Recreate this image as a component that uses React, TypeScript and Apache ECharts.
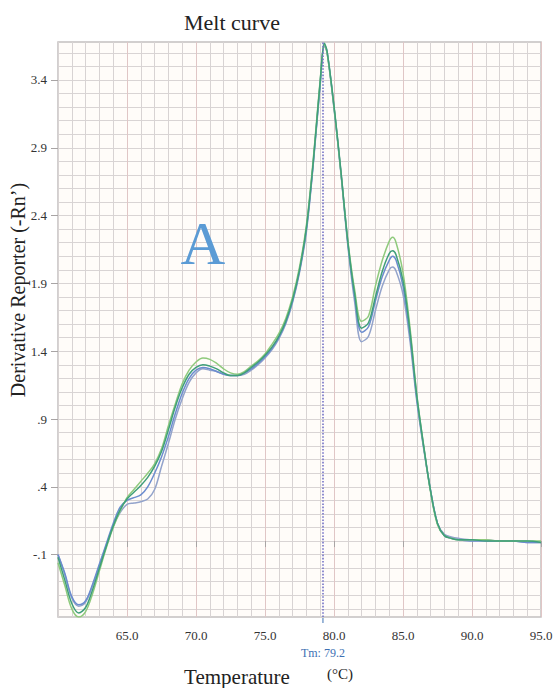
import React, { useEffect, useRef } from "react";
import * as echarts from "echarts";

const temps = [
  60, 60.5, 61, 61.5, 62, 62.5, 63, 63.5, 64, 64.5, 65, 65.5, 66, 66.5, 67, 67.5, 68, 68.5, 69, 69.5,
  70, 70.5, 71, 71.5, 72, 72.5, 73, 73.5, 74, 74.5, 75, 75.5, 76, 76.5, 77, 77.5, 78, 78.5, 79,
  79.3, 79.5, 80, 80.5, 81, 81.5, 82, 82.5, 83, 83.5, 84, 84.25, 84.5, 85, 85.5, 86, 86.5, 87, 87.5,
  88, 88.5, 89, 90, 91, 92, 93, 94, 95,
];

const wellGreen = [
  -0.16, -0.33, -0.5, -0.56, -0.52, -0.39, -0.22, -0.05, 0.1, 0.22, 0.32, 0.38, 0.44, 0.5, 0.57, 0.68, 0.85, 1.01, 1.16, 1.26,
  1.32, 1.35, 1.34, 1.31, 1.27, 1.24, 1.23, 1.25, 1.29, 1.33, 1.38, 1.45, 1.53, 1.64, 1.8, 2.02, 2.33, 2.82, 3.4,
  3.66, 3.6, 3.2, 2.72, 2.22, 1.85, 1.62, 1.66, 1.88, 2.07, 2.21, 2.24, 2.2, 1.98, 1.58, 1.08, 0.7, 0.36, 0.12,
  0.04, 0.02, 0.01, 0.01, 0.01, 0.0, 0.0, 0.0, 0.0,
];

const wellTeal = [
  -0.12, -0.29, -0.46, -0.53, -0.49, -0.36, -0.2, -0.04, 0.11, 0.23, 0.31, 0.36, 0.41, 0.47, 0.55, 0.66, 0.82, 0.99, 1.13, 1.23,
  1.28, 1.3, 1.29, 1.27, 1.24, 1.22, 1.22, 1.24, 1.28, 1.32, 1.37, 1.43, 1.51, 1.62, 1.78, 2.0, 2.31, 2.8, 3.39,
  3.67, 3.61, 3.21, 2.73, 2.21, 1.82, 1.57, 1.61, 1.8, 1.99, 2.12, 2.14, 2.11, 1.92, 1.55, 1.07, 0.7, 0.37, 0.13,
  0.04, 0.02, 0.01, 0.01, 0.0, 0.0, 0.0, 0.0, -0.01,
];

const wellBlue = [
  -0.1, -0.24, -0.41, -0.47, -0.44, -0.32, -0.17, -0.02, 0.13, 0.25, 0.3, 0.32, 0.34, 0.4, 0.5, 0.62, 0.77, 0.94, 1.09, 1.2,
  1.26, 1.28, 1.27, 1.25, 1.23, 1.22, 1.22, 1.24, 1.27, 1.31, 1.36, 1.42, 1.5, 1.61, 1.77, 1.99, 2.3, 2.79, 3.38,
  3.66, 3.61, 3.2, 2.72, 2.2, 1.8, 1.54, 1.58, 1.77, 1.95, 2.07, 2.1, 2.07, 1.88, 1.52, 1.05, 0.69, 0.37, 0.13,
  0.04, 0.02, 0.01, 0.0, 0.0, 0.0, 0.0, -0.01, -0.01,
];

const wellGrey = [
  -0.1, -0.25, -0.42, -0.48, -0.45, -0.33, -0.18, -0.03, 0.11, 0.21, 0.27, 0.28, 0.29, 0.31, 0.38, 0.55, 0.72, 0.9, 1.05, 1.17,
  1.24, 1.27, 1.26, 1.25, 1.23, 1.22, 1.22, 1.23, 1.26, 1.3, 1.35, 1.41, 1.49, 1.6, 1.76, 1.98, 2.28, 2.78, 3.36,
  3.65, 3.6, 3.19, 2.71, 2.18, 1.76, 1.47, 1.51, 1.7, 1.88, 2.0, 2.02, 1.99, 1.82, 1.48, 1.03, 0.68, 0.37, 0.13,
  0.05, 0.03, 0.02, 0.01, 0.01, 0.0, 0.0, -0.01, -0.01,
];

const xTickValues = [65, 70, 75, 80, 85, 90, 95];
const yTickValues = [-0.1, 0.4, 0.9, 1.4, 1.9, 2.4, 2.9, 3.4];
const yGridValues = [
  -0.5, -0.4, -0.3, -0.2, -0.1, 0.0, 0.1, 0.2, 0.3, 0.4, 0.5, 0.6, 0.7, 0.8, 0.9, 1.0, 1.1, 1.2, 1.3, 1.4, 1.5,
  1.6, 1.7, 1.8, 1.9, 2.0, 2.1, 2.2, 2.3, 2.4, 2.5, 2.6, 2.7, 2.8, 2.9, 3.0, 3.1, 3.2, 3.3, 3.4, 3.5, 3.6,
];
const tmValue = 79.2;
const tmLabel = "Tm: 79.2";

const SERIF = "'Liberation Serif', 'Times New Roman', serif";

function fmtY(v: number): string {
  const s = v.toFixed(1);
  if (s.startsWith("0.")) return s.slice(1);
  if (s.startsWith("-0.")) return "-" + s.slice(2);
  return s;
}

function txt(text: string, x: number, y: number, size: number, fill: string, extra: any = {}) {
  return {
    type: "text",
    x,
    y,
    z: 10,
    ...extra,
    style: {
      text,
      x: 0,
      y: 0,
      align: "center",
      verticalAlign: "middle",
      fontSize: size,
      fontFamily: SERIF,
      fontWeight: "normal",
      fill,
    },
  };
}

export default function App() {
  const ref = useRef<HTMLDivElement>(null);

  useEffect(() => {
    if (!ref.current) return;
    const chart = echarts.init(ref.current, null, { renderer: "svg" });
    const yMin = -0.56;
    const yMax = 3.68;

    const mk = (name: string, vals: number[], color: string, extra: any = {}) => ({
      type: "line",
      name,
      xAxisIndex: 1,
      yAxisIndex: 1,
      data: temps.map((t, i) => [t, vals[i]]),
      smooth: 0.35,
      showSymbol: false,
      symbol: "none",
      lineStyle: { color, width: 1.5 },
      itemStyle: { color },
      z: 3,
      ...extra,
    });

    const labelStyle = {
      fontFamily: SERIF,
      fontSize: 13,
      fontWeight: "normal",
      color: "#333",
    };

    chart.setOption({
      animation: false,
      backgroundColor: "#ffffff",
      textStyle: { fontFamily: SERIF },
      grid: {
        left: 58,
        top: 42,
        right: 12,
        bottom: 71,
        show: true,
        backgroundColor: "#fffcf9",
        borderColor: "#c4c0c0",
        borderWidth: 1.5,
        outerBoundsMode: "none",
      },
      xAxis: [
        {
          type: "value",
          position: "top",
          min: 60,
          max: 95,
          interval: 1,
          axisLine: { show: false },
          axisTick: { show: false },
          axisLabel: { show: false },
          splitLine: { show: true, lineStyle: { color: "#d8d3d3", width: 1 } },
        },
        {
          type: "value",
          position: "bottom",
          min: 60,
          max: 95,
          interval: 5,
          axisLine: { show: false },
          axisTick: {
            show: true,
            length: 6,
            customValues: xTickValues,
            lineStyle: { color: "#a8a4a4", width: 1 },
          },
          axisLabel: {
            customValues: xTickValues,
            formatter: (v: number) => v.toFixed(1),
            margin: 12,
            ...labelStyle,
            textStyle: labelStyle,
          },
          splitLine: { show: true, lineStyle: { color: "#e0c6c6", width: 1 } },
        },
      ],
      yAxis: [
        {
          type: "value",
          position: "right",
          min: yMin,
          max: yMax,
          axisLine: { show: false },
          axisTick: { show: false, customValues: yGridValues },
          axisLabel: { show: false, customValues: yGridValues },
          splitLine: { show: true, lineStyle: { color: "#d9d4d4", width: 1 } },
        },
        {
          type: "value",
          position: "left",
          min: yMin,
          max: yMax,
          axisLine: { show: false },
          axisTick: {
            show: true,
            length: 7,
            customValues: yTickValues,
            lineStyle: { color: "#a8a4a4", width: 1 },
          },
          axisLabel: {
            customValues: yTickValues,
            formatter: (v: number) => fmtY(v),
            margin: 11,
            ...labelStyle,
            textStyle: labelStyle,
          },
          splitLine: { show: false },
        },
      ],
      series: [
        mk("Well 4", wellGrey, "#93a3cb"),
        mk("Well 3", wellBlue, "#6b8ccf"),
        mk("Well 1", wellGreen, "#8fca7c"),
        mk("Well 2", wellTeal, "#3f9f7a", {
          markLine: {
            silent: true,
            symbol: ["none", "none"],
            lineStyle: { color: "#7472c6", type: "dotted", width: 1.6 },
            label: {
              show: true,
              position: "start",
              formatter: tmLabel,
              color: "#3d70b3",
              fontFamily: SERIF,
              fontSize: 12,
              distance: 30,
            },
            data: [{ xAxis: tmValue }],
            z: 4,
          },
        }),
      ],
    });

    const tx = chart.convertToPixel({ xAxisIndex: 1 }, tmValue) as number;
    const by = chart.convertToPixel({ yAxisIndex: 1 }, yMin) as number;
    chart.setOption({
      graphic: [
        txt("Melt curve", 232, 22, 22, "#222"),
        txt("A", 203, 243, 62, "#5b9bd5"),
        txt("Derivative Reporter (-Rn\u2019)", 18, 290, 20, "#222", { rotation: Math.PI / 2 }),
        txt("Temperature", 237, 677, 21, "#222"),
        txt("(\u00B0C)", 340, 674, 15, "#222"),
        {
          type: "line",
          shape: { x1: tx, y1: by + 1, x2: tx, y2: by + 6 },
          style: { stroke: "#3d70b3", lineWidth: 1 },
        },
      ],
    });

    return () => chart.dispose();
  }, []);

  return (
    <div
      ref={ref}
      style={{ position: "fixed", left: 0, top: 0, width: 553, height: 688 }}
    />
  );
}
